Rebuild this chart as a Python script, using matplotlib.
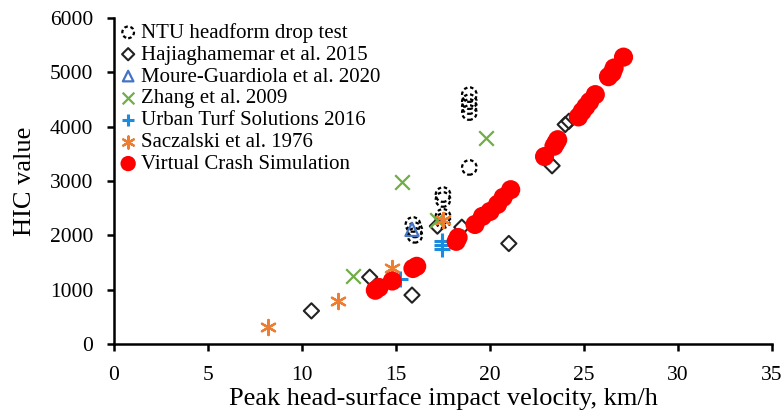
import numpy as np
import matplotlib
matplotlib.use('agg')
import matplotlib.pyplot as plt

plt.rcParams['font.family'] = ['Liberation Serif', 'DejaVu Serif']

# NTU headform drop test
ntu_v = [15.9, 16.0, 16.0, 17.5, 17.5, 17.5, 17.5, 18.9, 18.9, 18.9, 18.9, 18.9]
ntu_hic = [2200, 2100, 2000, 2750, 2660, 2350, 2270, 4590, 4460, 4370, 4260, 3250]

# Hajiaghamemar et al. 2015
haj_v = [10.5, 13.6, 15.85, 17.2, 18.5, 21.0, 23.3, 24.0, 24.2]
haj_hic = [610, 1230, 900, 2170, 2150, 1850, 3280, 4040, 4100]

# Moure-Guardiola et al. 2020
mou_v = [15.85]
mou_hic = [2110]

# Zhang et al. 2009
zha_v = [12.7, 15.3, 17.2, 19.8]
zha_hic = [1250, 2990, 2290, 3790]

# Urban Turf Solutions 2016
urb_v = [15.2, 17.45, 17.45, 17.45]
urb_hic = [1190, 1890, 1830, 1740]

# Saczalski et al. 1976
sac_v = [8.2, 11.9, 14.8, 17.5]
sac_hic = [310, 790, 1400, 2290]

# Virtual Crash Simulation
vc_v = [13.9, 14.1, 14.8, 15.9, 16.1, 18.2, 18.3, 19.2, 19.6, 20.0, 20.4, 20.7,
        21.1, 22.9, 23.4, 23.5, 23.6, 24.7, 24.9, 25.1, 25.3, 25.6, 26.3, 26.5,
        26.6, 27.1]
vc_hic = [990, 1040, 1160, 1390, 1430, 1890, 1960, 2200, 2350, 2440, 2570, 2700,
          2840, 3450, 3640, 3700, 3760, 4180, 4280, 4370, 4460, 4590, 4920, 4990,
          5080, 5280]

fig = plt.figure(figsize=(7.83, 4.12), dpi=100)
ax = fig.add_axes([0.1456, 0.165, 0.8404, 0.7913])

ax.scatter(ntu_v, ntu_hic, s=110, facecolors='none', edgecolors='black',
           linewidths=1.6, linestyles=(0, (1.6, 1.2)), label='NTU headform drop test', zorder=3)
ax.scatter(haj_v, haj_hic, s=60, marker='D', facecolors='none', edgecolors='#222222',
           linewidths=1.5, label='Hajiaghamemar et al. 2015', zorder=3)
ax.scatter(mou_v, mou_hic, s=90, marker='^', facecolors='none', edgecolors='#4472C4',
           linewidths=1.6, label='Moure-Guardiola et al. 2020', zorder=3)
ax.scatter(zha_v, zha_hic, s=110, marker='x', color='#70AD47',
           linewidths=1.6, label='Zhang et al. 2009', zorder=3)
ax.scatter(urb_v, urb_hic, s=130, marker='+', color='#1A8CE0',
           linewidths=2.2, label='Urban Turf Solutions 2016', zorder=3)
ax.scatter(sac_v, sac_hic, s=120, marker=(6, 2, 0), color='#ED7D31',
           linewidths=1.6, label='Saczalski et al. 1976', zorder=3)
ax.scatter(vc_v, vc_hic, s=190, marker='o', color='#FF0000', edgecolors='none',
           label='Virtual Crash Simulation', zorder=4)

ax.set_xlim(0, 35)
ax.set_ylim(0, 6000)
ax.set_xticks(np.arange(0, 36, 5))
ax.set_yticks(np.arange(0, 6001, 1000))
ax.spines['top'].set_visible(False)
ax.spines['right'].set_visible(False)
ax.spines['left'].set_linewidth(1.8)
ax.spines['bottom'].set_linewidth(1.8)
ax.tick_params(direction='out', length=5, width=1.8, labelsize=15.5)
ax.tick_params(axis='x', pad=11)
ax.tick_params(axis='y', pad=10)

ax.set_xlabel('Peak head-surface impact velocity, km/h', fontsize=19, labelpad=1)
ax.set_ylabel('HIC value', fontsize=19, labelpad=10)

ax.legend(loc='upper left', bbox_to_anchor=(0.012, 0.985), frameon=False, fontsize=15,
          handlelength=0.6, handletextpad=0.3, labelspacing=0.11,
          borderpad=0, borderaxespad=0, scatterpoints=1, markerscale=0.8)

fig.savefig('out.png', dpi=100)
